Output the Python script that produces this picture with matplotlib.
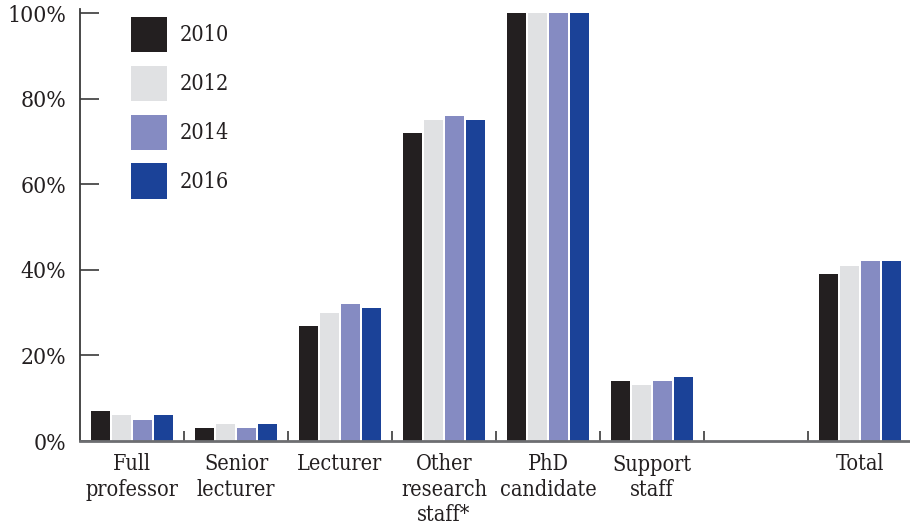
import numpy as np
import matplotlib.pyplot as plt

# data
categories = ['Full\nprofessor', 'Senior\nlecturer', 'Lecturer', 'Other\nresearch\nstaff*',
              'PhD\ncandidate', 'Support\nstaff', '', 'Total']
years = ['2010', '2012', '2014', '2016']
v2010 = [7, 3, 27, 72, 100, 14, np.nan, 39]
v2012 = [6, 4, 30, 75, 100, 13, np.nan, 41]
v2014 = [5, 3, 32, 76, 100, 14, np.nan, 42]
v2016 = [6, 4, 31, 75, 100, 15, np.nan, 42]
colors = ['#231f20', '#e0e1e3', '#858bc2', '#1b4298']

plt.rcParams['font.family'] = ['DejaVu Serif']
plt.rcParams['font.stretch'] = 'condensed'
txt = '#231f20'
fs = 15.5

fig = plt.figure(figsize=(9.1, 5.27), dpi=100)
ax = fig.add_axes([80 / 910, 86 / 527, 832 / 910, 432 / 527])

x = np.arange(len(categories))
series = [v2010, v2012, v2014, v2016]
w = 0.2
for i, vals in enumerate(series):
    ax.bar(x + (i - 1.5) * w, vals, width=w * 0.91, color=colors[i], label=years[i])

ax.set_xlim(-0.5, len(categories) - 0.5)
ax.set_ylim(0, 101)

ax.set_yticks(np.arange(0, 101, 20))
ax.set_yticklabels([f'{v}%' for v in range(0, 101, 20)])
ax.tick_params(axis='y', direction='in', length=14, width=1.2, color='#3a3a3a',
               labelsize=16.5, labelcolor=txt, pad=10)

ax.set_xticks(x)
ax.set_xticklabels(categories, linespacing=1.2)
ax.set_xticks(np.arange(0.5, len(categories) - 1, 1), minor=True)
ax.tick_params(axis='x', which='major', length=0, labelsize=fs, labelcolor=txt, pad=9)
ax.tick_params(axis='x', which='minor', direction='in', length=7, width=1.2, color='#3a3a3a')

for s in ['top', 'right']:
    ax.spines[s].set_visible(False)
ax.spines['left'].set_color('#3a3a3a')
ax.spines['left'].set_linewidth(1.3)
ax.spines['bottom'].set_color('#6d6e71')
ax.spines['bottom'].set_linewidth(2)

leg = ax.legend(loc='upper left', bbox_to_anchor=(51 / 832, 1 - 8 / 432), frameon=False,
                fontsize=fs, handlelength=1.67, handleheight=2.14, labelspacing=0.63,
                handletextpad=0.6, borderpad=0, borderaxespad=0)
for t in leg.get_texts():
    t.set_color(txt)

plt.savefig('out.png', dpi=100)
